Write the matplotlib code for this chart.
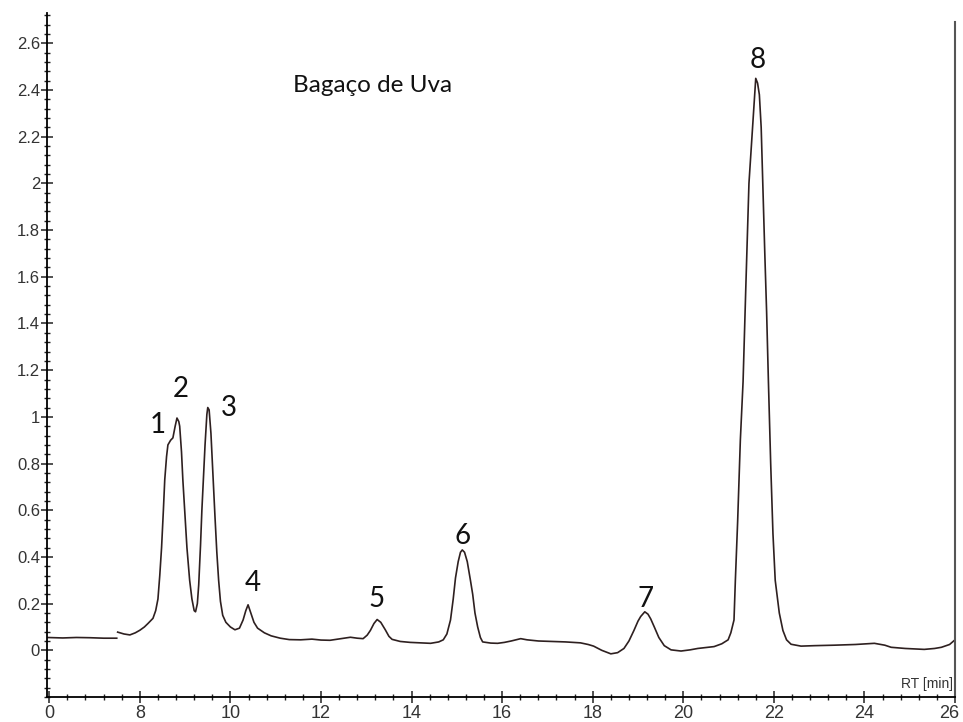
import numpy as np
import matplotlib
matplotlib.use('Agg')
import matplotlib.pyplot as plt
import matplotlib.transforms as mtransforms
from matplotlib.ticker import MultipleLocator

# first trace piece (before the cut)
rt_a = [5.95, 6.3, 6.6, 6.9, 7.2, 7.49]
sig_a = [0.055, 0.053, 0.055, 0.054, 0.052, 0.052]

# main trace
rt_b = [7.51, 7.65, 7.78, 7.90, 8.00, 8.10, 8.18, 8.29, 8.35, 8.40, 8.44, 8.48,
        8.52, 8.55, 8.59, 8.62, 8.68, 8.73, 8.78, 8.82, 8.86, 8.88, 8.92, 8.95,
        9.00, 9.04, 9.10, 9.15, 9.20, 9.23, 9.27, 9.30, 9.34, 9.37, 9.41, 9.44,
        9.48, 9.50, 9.53, 9.57, 9.62, 9.66, 9.70, 9.74, 9.78, 9.83, 9.90, 10.00,
        10.10, 10.20, 10.28, 10.34, 10.39, 10.45, 10.52, 10.60, 10.75, 10.90, 11.10, 11.30,
        11.55, 11.80, 12.00, 12.20, 12.45, 12.65, 12.80, 12.93, 13.02, 13.09, 13.17, 13.24,
        13.32, 13.42, 13.50, 13.57, 13.75, 13.97, 14.20, 14.42, 14.60, 14.70, 14.78, 14.86,
        14.92, 14.97, 15.03, 15.08, 15.12, 15.17, 15.23, 15.30, 15.35, 15.40, 15.46, 15.52,
        15.57, 15.75, 15.90, 16.05, 16.20, 16.41, 16.55, 16.80, 17.10, 17.40, 17.73, 17.90,
        18.02, 18.20, 18.40, 18.55, 18.69, 18.80, 18.91, 19.00, 19.06, 19.15, 19.22, 19.28,
        19.36, 19.46, 19.58, 19.73, 19.95, 20.15, 20.32, 20.50, 20.68, 20.85, 20.99, 21.05,
        21.12, 21.15, 21.20, 21.26, 21.32, 21.38, 21.45, 21.50, 21.55, 21.60, 21.64, 21.68,
        21.72, 21.76, 21.80, 21.84, 21.88, 21.93, 21.98, 22.03, 22.12, 22.20, 22.28, 22.38,
        22.60, 22.90, 23.33, 23.80, 24.22, 24.45, 24.59, 24.90, 25.32, 25.55, 25.70, 25.88,
        26.00]
sig_b = [0.078, 0.070, 0.066, 0.075, 0.086, 0.100, 0.115, 0.137, 0.17, 0.22, 0.32, 0.44,
         0.60, 0.73, 0.83, 0.88, 0.90, 0.91, 0.96, 0.995, 0.98, 0.96, 0.85, 0.73,
         0.57, 0.44, 0.30, 0.22, 0.17, 0.165, 0.20, 0.28, 0.45, 0.60, 0.76, 0.88,
         1.01, 1.04, 1.03, 0.93, 0.73, 0.57, 0.42, 0.30, 0.21, 0.15, 0.12, 0.10,
         0.088, 0.095, 0.13, 0.17, 0.195, 0.16, 0.12, 0.095, 0.075, 0.062, 0.052, 0.046,
         0.045, 0.048, 0.044, 0.043, 0.050, 0.056, 0.052, 0.050, 0.065, 0.085, 0.115, 0.132,
         0.12, 0.088, 0.060, 0.047, 0.038, 0.034, 0.032, 0.030, 0.036, 0.045, 0.07, 0.13,
         0.22, 0.31, 0.38, 0.42, 0.43, 0.42, 0.38, 0.30, 0.24, 0.16, 0.10, 0.055,
         0.036, 0.031, 0.030, 0.034, 0.040, 0.050, 0.045, 0.040, 0.038, 0.036, 0.032, 0.025,
         0.018, 0.000, -0.015, -0.010, 0.008, 0.040, 0.085, 0.125, 0.145, 0.165, 0.155, 0.135,
         0.10, 0.055, 0.020, 0.002, -0.003, 0.002, 0.008, 0.012, 0.016, 0.028, 0.045, 0.075,
         0.13, 0.30, 0.55, 0.90, 1.15, 1.55, 2.00, 2.15, 2.30, 2.45, 2.43, 2.38,
         2.24, 1.97, 1.70, 1.45, 1.15, 0.80, 0.50, 0.30, 0.16, 0.085, 0.045, 0.026,
         0.018, 0.020, 0.022, 0.025, 0.030, 0.022, 0.013, 0.008, 0.004, 0.008, 0.013, 0.025,
         0.045]

peak_labels = ['1', '2', '3', '4', '5', '6', '7', '8']
label_x = [8.40, 8.91, 9.97, 10.50, 13.22, 15.12, 19.17, 21.65]
label_y = [0.966, 1.12, 1.04, 0.29, 0.22, 0.49, 0.22, 2.53]

xtick_pos = [6, 8, 10, 12, 14, 16, 18, 20, 22, 24, 26]
xtick_txt = ['0', '8', '10', '12', '14', '16', '18', '20', '22', '24', '26']
ytick_pos = [0, 0.2, 0.4, 0.6, 0.8, 1, 1.2, 1.4, 1.6, 1.8, 2, 2.2, 2.4, 2.6]
ytick_txt = ['0', '0.2', '0.4', '0.6', '0.8', '1', '1.2', '1.4', '1.6', '1.8',
             '2', '2.2', '2.4', '2.6']

fig = plt.figure(figsize=(9.63, 7.22), dpi=100)
ax = fig.add_axes([0.0488, 0.0346, 0.9429, 0.9474])

line_col = '#2e2020'
ax.plot(rt_a, sig_a, color=line_col, lw=1.2)
ax.plot(rt_b, sig_b, color=line_col, lw=1.2)

ax.set_xlim(5.95, 26.0)
ax.set_ylim(-0.2, 2.73)

ax.spines['top'].set_visible(False)
ax.spines['right'].set_color('#555555')
ax.spines['right'].set_linewidth(1.5)
ax.spines['right'].set_bounds(-0.2, 2.69)
ax.spines['left'].set_linewidth(1.3)
ax.spines['bottom'].set_linewidth(1.3)

ax.set_xticks(xtick_pos)
ax.set_xticklabels(xtick_txt)
ax.set_yticks(ytick_pos)
ax.set_yticklabels(ytick_txt)
ax.xaxis.set_minor_locator(MultipleLocator(0.4))
ax.yaxis.set_minor_locator(MultipleLocator(0.04))
ax.tick_params(which='major', direction='inout', length=8, width=1.1, colors='#222222',
               labelcolor='#333333', labelsize=12)
ax.tick_params(which='minor', direction='inout', length=5, width=1.0, colors='#222222')
ax.tick_params(axis='x', labelsize=13, pad=2)
ax.tick_params(axis='y', pad=1)
ax.tick_params(right=False, top=False, which='both')
for t in ax.get_xticklabels() + ax.get_yticklabels():
    t.set_family('Liberation Sans')

# last x label sits on the figure edge, nudge it in a little
last = ax.get_xticklabels()[-1]
last.set_transform(last.get_transform() +
                   mtransforms.ScaledTranslation(-6 / 100, 0, fig.dpi_scale_trans))

for lab, lx, ly in zip(peak_labels, label_x, label_y):
    ax.text(lx, ly, lab, fontsize=20, family='Lato', ha='center', va='center', color='#111111')

ax.text(13.13, 2.42, 'Bagaço de Uva', fontsize=17.5, family='Lato', ha='center', va='center',
        color='#111111')
ax.text(25.95, -0.145, 'RT [min]', fontsize=10, family='Liberation Sans', ha='right',
        va='center', color='#333333')

plt.savefig('out.png', dpi=100)
